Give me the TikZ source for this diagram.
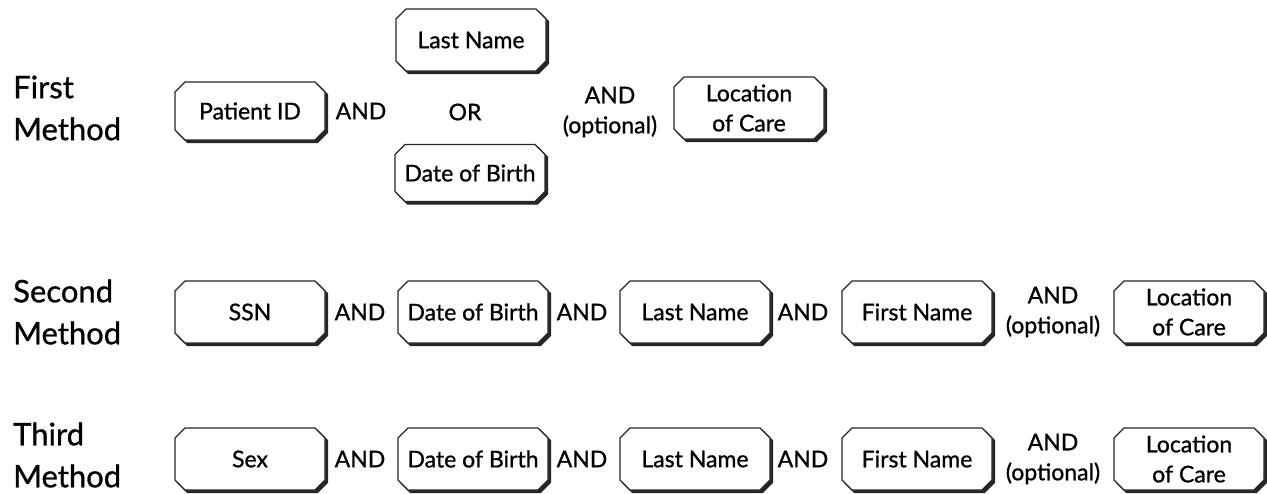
\documentclass[tikz,border=0pt]{standalone}
\usepackage{fontspec}
\setmainfont{Lato}[FakeBold=0.9]
\usetikzlibrary{shapes.misc}
\begin{document}
\begin{tikzpicture}[x=1pt,y=-1pt,
  box/.style={chamfered rectangle, chamfered rectangle xsep=5pt, chamfered rectangle ysep=5pt,
    draw=black!85, line width=1.1pt, fill=white, inner sep=0pt,
    minimum width=150pt, minimum height=62pt, align=center,
    font=\fontsize{23}{30}\selectfont,
    preaction={fill=black!85, draw=black!85, transform canvas={xshift=2.5pt, yshift=-2.5pt}}},
  conj/.style={font=\fontsize{23}{30}\selectfont, align=center, inner sep=0pt},
  method/.style={font=\fontsize{31}{42}\selectfont, align=left, anchor=west, inner sep=0pt}]
\useasboundingbox (0,0) rectangle (1267,493);
% Row 1
\node[method] (m1) at (13,108) {First\\Method};
\node[box, minimum height=58pt] (pid) at (250,111) {Patient ID};
\node[conj] (and11) at (361,111) {AND};
\node[box] (ln1) at (471,40) {Last Name};
\node[conj] (or1) at (465,112) {OR};
\node[box, minimum height=57pt] (dob1) at (470,173) {Date of Birth};
\node[conj] (ao1) at (610,112) {AND\\(optional)};
\node[box] (loc1) at (749,108) {Location\\of Care};
% Row 2
\node[method] (m2) at (13,312) {Second\\Method};
\node[box] (ssn) at (250,312) {SSN};
\node[conj] (and21) at (360,312) {AND};
\node[box] (dob2) at (473,312) {Date of Birth};
\node[conj] (and22) at (582,312) {AND};
\node[box] (ln2) at (695,312) {Last Name};
\node[conj] (and23) at (803,312) {AND};
\node[box] (fn2) at (917,312) {First Name};
\node[conj] (ao2) at (1053,312) {AND\\(optional)};
\node[box] (loc2) at (1189,312) {Location\\of Care};
% Row 3
\node[method] (m3) at (13,455) {Third\\Method};
\node[box] (sex) at (250,459) {Sex};
\node[conj] (and31) at (360,459) {AND};
\node[box] (dob3) at (473,459) {Date of Birth};
\node[conj] (and32) at (582,459) {AND};
\node[box] (ln3) at (695,459) {Last Name};
\node[conj] (and33) at (803,459) {AND};
\node[box] (fn3) at (917,459) {First Name};
\node[conj] (ao3) at (1053,459) {AND\\(optional)};
\node[box] (loc3) at (1189,459) {Location\\of Care};
\end{tikzpicture}
\end{document}
